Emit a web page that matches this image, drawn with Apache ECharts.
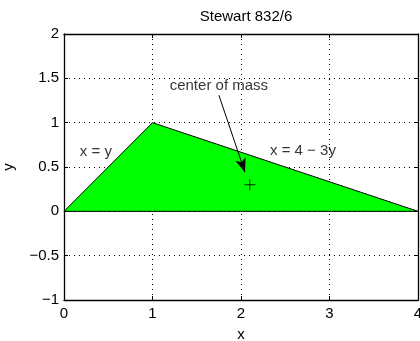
<!DOCTYPE html>
<html>
<head>
<meta charset="utf-8">
<script src="https://cdn.jsdelivr.net/npm/echarts@6/dist/echarts.min.js"></script>
<style>
html, body { margin: 0; padding: 0; background: #fff; }
#main { width: 420px; height: 341px; }
</style>
</head>
<body>
<div id="main"></div>
<script>
// triangle region bounded by x = y, x = 4 - 3y and y = 0
var region = [[0, 0], [1, 1], [4, 0]];
// marked point and arrow
var centerPoint = [[2.1, 0.3]];
var arrowFrom = [1.75, 1.31];
var arrowTo = [2.045, 0.44];
// text annotations
var notes = [
    { name: 'center of mass', value: [1.75, 1.42] },
    { name: 'x = y', value: [0.36, 0.67] },
    { name: 'x = 4 \u2212 3y', value: [2.7, 0.68] }
];

var font = 'Liberation Sans, Arial, sans-serif';
var fs = 15;
var fmt = function (v) { return String(v).replace('-', '\u2212'); };

var chart = echarts.init(document.getElementById('main'));

function dotted() {
    return { show: true, lineStyle: { color: '#000', width: 1, type: [1, 4] } };
}
function boxLine() {
    return { show: true, onZero: false, lineStyle: { color: '#000', width: 1.3 } };
}
function boxTick() {
    return { show: true, inside: true, length: 4, lineStyle: { color: '#000', width: 1 } };
}

chart.setOption({
    backgroundColor: '#fff',
    animation: false,
    title: {
        text: 'Stewart 832/6',
        left: 241, top: 4, textAlign: 'center',
        textStyle: { fontFamily: font, fontSize: fs, fontWeight: 'normal', color: '#000' }
    },
    grid: { left: 64, right: 2, top: 34, bottom: 41, outerBoundsMode: 'none', containLabel: false },
    xAxis: [{
        type: 'value', min: 0, max: 4, interval: 1, position: 'bottom',
        name: 'x', nameLocation: 'middle', nameGap: 27,
        nameTextStyle: { fontFamily: font, fontSize: fs, color: '#000' },
        axisLine: boxLine(), axisTick: boxTick(),
        axisLabel: { margin: 6, fontFamily: font, fontSize: fs, color: '#000', formatter: fmt },
        splitLine: dotted()
    }, {
        type: 'value', min: 0, max: 4, interval: 1, position: 'top',
        axisLine: boxLine(), axisTick: boxTick(),
        axisLabel: { show: false }, splitLine: { show: false }
    }],
    yAxis: [{
        type: 'value', min: -1, max: 2, interval: 0.5, position: 'left',
        name: 'y', nameLocation: 'middle', nameGap: 48,
        nameTextStyle: { fontFamily: font, fontSize: fs, color: '#000' },
        axisLine: boxLine(), axisTick: boxTick(),
        axisLabel: { margin: 5, fontFamily: font, fontSize: fs, color: '#000', formatter: fmt },
        splitLine: dotted()
    }, {
        type: 'value', min: -1, max: 2, interval: 0.5, position: 'right',
        axisLine: boxLine(), axisTick: boxTick(),
        axisLabel: { show: false }, splitLine: { show: false }
    }],
    series: [
        {
            type: 'custom',
            renderItem: function (params, api) {
                var pts = region.map(function (p) { return api.coord(p); });
                return {
                    type: 'polygon',
                    shape: { points: pts },
                    style: { fill: '#00ff00', stroke: '#000', lineWidth: 1 }
                };
            },
            data: [0],
            silent: true,
            z: 2
        },
        {
            type: 'scatter',
            data: centerPoint,
            symbol: 'path://M0,5L10,5M5,0L5,10',
            symbolSize: 11,
            itemStyle: { color: 'none', borderColor: '#000', borderWidth: 1 },
            markLine: {
                silent: true,
                symbol: ['none', 'arrow'],
                symbolSize: [8, 14],
                label: { show: false },
                lineStyle: { color: '#000', width: 1, type: 'solid' },
                data: [[{ coord: arrowFrom }, { coord: arrowTo }]]
            },
            z: 4
        },
        {
            type: 'scatter',
            data: notes,
            symbolSize: 0,
            label: {
                show: true, position: 'inside', formatter: '{b}',
                fontFamily: font, fontSize: fs, color: '#000'
            },
            z: 5
        }
    ]
});
</script>
</body>
</html>
